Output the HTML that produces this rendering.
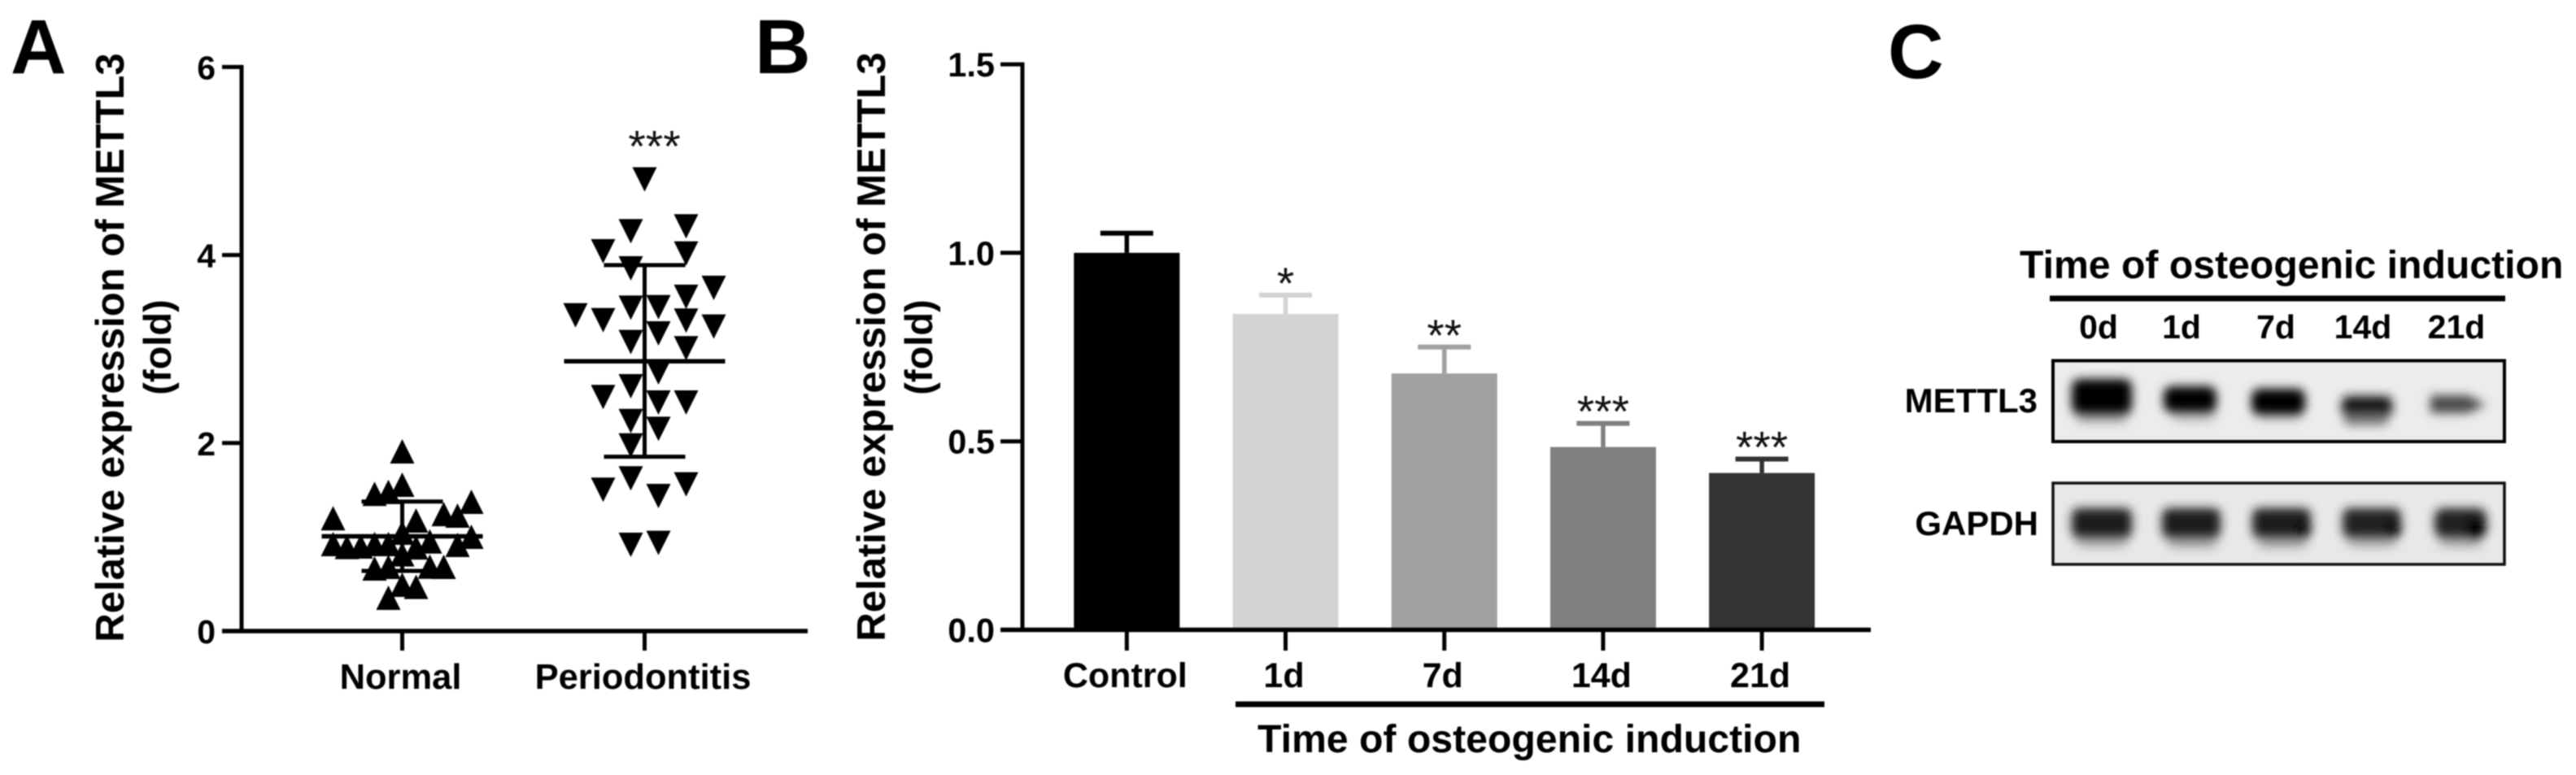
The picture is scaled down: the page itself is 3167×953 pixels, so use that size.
<!DOCTYPE html>
<html>
<head>
<meta charset="utf-8">
<title>METTL3 expression figure</title>
<style>
html,body{margin:0;padding:0;background:#fff;}
svg{display:block;filter:blur(0.7px);}
text{font-family:"Liberation Sans",Arial,sans-serif;font-weight:bold;fill:#000;}
.star{font-weight:normal;font-size:55px;fill:#111;}
</style>
</head>
<body>
<svg id="fig" xmlns="http://www.w3.org/2000/svg" width="3167" height="953" viewBox="0 0 3167 953">
  <defs>
    <filter id="blur" x="-40%" y="-80%" width="180%" height="260%"><feGaussianBlur stdDeviation="6"/></filter>
    <filter id="blurWide" x="-40%" y="-150%" width="180%" height="400%"><feGaussianBlur stdDeviation="7"/></filter>
  </defs>
  <rect width="3167" height="953" fill="#fff"/>

  <text x="13" y="90" font-size="95">A</text>
  <text x="928" y="90" font-size="95">B</text>
  <text x="2321" y="96" font-size="95">C</text>

  <text transform="translate(152 427.5) rotate(-90)" text-anchor="middle" font-size="49">Relative expression of METTL3</text>
  <text transform="translate(210 427) rotate(-90)" text-anchor="middle" font-size="47">(fold)</text>
  <text transform="translate(1088 426.5) rotate(-90)" text-anchor="middle" font-size="49">Relative expression of METTL3</text>
  <text transform="translate(1146 427) rotate(-90)" text-anchor="middle" font-size="47">(fold)</text>

  <g id="panelA"></g>
  <g id="panelB"></g>

  <rect x="1519" y="862.5" width="724" height="7" fill="#000"/>
  <text x="1546" y="925" font-size="48.2">Time of osteogenic induction</text>

  <!-- Panel C: western blot -->
  <g>
    <text x="2483" y="342" font-size="48.2">Time of osteogenic induction</text>
    <rect x="2520" y="363.5" width="560" height="7" fill="#000"/>
    <g font-size="41" text-anchor="middle">
      <text x="2580" y="416">0d</text>
      <text x="2682" y="416">1d</text>
      <text x="2798" y="416">7d</text>
      <text x="2905" y="416">14d</text>
      <text x="3020" y="416">21d</text>
    </g>
    <text x="2505" y="507" font-size="42" text-anchor="end">METTL3</text>
    <text x="2506" y="658" font-size="42" text-anchor="end">GAPDH</text>

    <g>
      <rect x="2524" y="444" width="555" height="99" fill="#ececec"/>
      <g filter="url(#blurWide)">
        <rect x="2554" y="505" width="60" height="14" fill="#9c9c9c"/>
        <rect x="2672" y="504" width="50" height="13" fill="#b4b4b4"/>
        <rect x="2776" y="507" width="52" height="10" fill="#c4c4c4"/>
      </g>
      <g filter="url(#blur)">
        <rect x="2547" y="466" width="74" height="43" rx="10" fill="#000"/>
        <rect x="2660" y="475" width="65" height="32" rx="10" fill="#000"/>
        <rect x="2768" y="478" width="66" height="32" rx="10" fill="#000"/>
        <rect x="2879" y="487" width="62" height="26" rx="8" fill="#181818"/>
        <rect x="2882" y="510" width="54" height="13" rx="6" fill="#777"/>
        <path d="M2988 486 L3034 486 L3056 498 L3034 508 L2988 508 Z" fill="#484848"/>
      </g>
      <rect x="2524" y="443.5" width="555" height="99.5" fill="none" stroke="#000" stroke-width="4"/>
    </g>

    <g>
      <rect x="2524" y="594" width="555" height="100" fill="#e8e8e8"/>
      <g filter="url(#blurWide)">
        <rect x="2554" y="658" width="60" height="14" fill="#a4a4a4"/>
        <rect x="2666" y="658" width="58" height="15" fill="#9c9c9c"/>
        <rect x="2777" y="658" width="58" height="15" fill="#9c9c9c"/>
        <rect x="2888" y="658" width="56" height="14" fill="#a4a4a4"/>
        <rect x="3000" y="658" width="50" height="14" fill="#a4a4a4"/>
      </g>
      <g filter="url(#blur)">
        <rect x="2547" y="625" width="74" height="36" rx="9" fill="#1c1c1c"/>
        <rect x="2658" y="625" width="72" height="36" rx="9" fill="#1c1c1c"/>
        <rect x="2769" y="625" width="72" height="36" rx="9" fill="#1c1c1c"/>
        <rect x="2880" y="625" width="72" height="36" rx="9" fill="#202020"/>
        <rect x="2993" y="625" width="64" height="36" rx="11" fill="#202020"/>
        <circle cx="2943" cy="650" r="9" fill="#000"/>
        <circle cx="3044" cy="650" r="12" fill="#000"/>
        <circle cx="2832" cy="651" r="8" fill="#000"/>
      </g>
      <rect x="2524" y="594" width="555" height="100" fill="none" stroke="#111" stroke-width="3.5"/>
    </g>
  </g>
</svg>

<script>
// ---------- Panel A data ----------
const scatterCategories = ['Normal', 'Periodontitis'];
const scatterTickLabels = ['0', '2', '4', '6'];
const scatterTickValues = [0, 2, 4, 6];
const normalValues = [1.912, 1.557, 1.46, 1.48, 1.2, 1.176, 1.245, 1.228, 1.375, 1.047, 1.003, 0.926, 0.894, 0.9, 0.926, 0.926, 0.816, 0.89, 0.954, 0.917, 0.666, 0.683, 0.686, 0.683, 0.493, 0.47, 0.355];
const normalJitter = [0, 0, -2, -1, -5, 1, 3, 4, 5, 0, 5, -5, -4, -3, -2, -1, 0, 1, 2, 4, -2, -1, 2, 3, 0, 1, -1];
const periodontitisValues = [4.804, 4.253, 4.305, 4.04, 4.016, 3.858, 3.651, 3.555, 3.44, 3.445, 3.359, 3.307, 3.302, 3.238, 3.074, 3.166, 3.008, 2.751, 2.604, 2.489, 2.431, 2.431, 2.234, 2.151, 1.975, 1.624, 1.503, 1.56, 1.436, 0.917, 0.937];
const periodontitisJitter = [0, -1, 3, -3, 3, -1, 5, 3, -1, 1, -5, -3, 3, 5, -1, 1, 3, 1, -1, -3, 1, 3, -1, 1, -1, -1, -3, 3, 1, -1, 1];
const scatterMeans = [1.008, 2.87];
const scatterSdHigh = [1.378, 3.893];
const scatterSdLow = [0.64, 1.854];
const scatterSignificance = ['', '***'];

// ---------- Panel B data ----------
const barCategories = ['Control', '1d', '7d', '14d', '21d'];
const barValues = [1.0, 0.838, 0.68, 0.485, 0.416];
const barErrorTops = [1.052, 0.888, 0.75, 0.5475, 0.453];
const barColors = ['#000000', '#d3d3d3', '#a0a0a3', '#808080', '#333333'];
const barSignificance = ['', '*', '**', '***', '***'];
const barTickLabels = ['0.0', '0.5', '1.0', '1.5'];
const barTickValues = [0, 0.5, 1, 1.5];

const NS = 'http://www.w3.org/2000/svg';

function yA(v) { return 776 - v * 115.6; }
function xA(i) { return 494.5 + i * 298; }
function jitterA(j) { return j * 17; }
function yB(v) { return 774.5 - v * 463.6; }
function xB(i) { return 1385.3 + i * 195.2; }

function addLine(parent, x1, y1, x2, y2, width, color, name) {
  const el = document.createElementNS(NS, 'line');
  el.setAttribute('x1', x1);
  el.setAttribute('y1', y1);
  el.setAttribute('x2', x2);
  el.setAttribute('y2', y2);
  el.setAttribute('stroke', color);
  el.setAttribute('stroke-width', width);
  
  
  parent.appendChild(el);
  return el;
}

function addText(parent, x, y, str, size, anchor, name, cls) {
  const el = document.createElementNS(NS, 'text');
  el.setAttribute('x', x);
  el.setAttribute('y', y);
  el.setAttribute('font-size', size);
  el.setAttribute('text-anchor', anchor);
  if (cls) el.setAttribute('class', cls);
  el.textContent = str;
  
  
  parent.appendChild(el);
  return el;
}

function addTriangle(parent, cx, cy, up, name) {
  const el = document.createElementNS(NS, 'polygon');
  const h = 15;
  const pts = up
    ? [[cx, cy - h], [cx - h, cy + h], [cx + h, cy + h]]
    : [[cx, cy + h], [cx - h, cy - h], [cx + h, cy - h]];
  el.setAttribute('points', pts.map(function (p) { return p.join(','); }).join(' '));
  el.setAttribute('fill', '#000');
  
  
  parent.appendChild(el);
  return el;
}

// ---------- Draw panel A ----------
const gA = document.getElementById('panelA');

normalValues.forEach(function (v, i) {
  addTriangle(gA, xA(0) + jitterA(normalJitter[i]), yA(v), true, 'normal-point');
});
periodontitisValues.forEach(function (v, i) {
  addTriangle(gA, xA(1) + jitterA(periodontitisJitter[i]), yA(v), false, 'periodontitis-point');
});

scatterCategories.forEach(function (c, i) {
  const cx = xA(i);
  addLine(gA, cx - 99, yA(scatterMeans[i]), cx + 99, yA(scatterMeans[i]), 5.5, '#000', 'mean-line-' + c.toLowerCase());
  addLine(gA, cx - 50, yA(scatterSdHigh[i]), cx + 50, yA(scatterSdHigh[i]), 5, '#000', 'sd-cap-high-' + c.toLowerCase());
  addLine(gA, cx - 50, yA(scatterSdLow[i]), cx + 50, yA(scatterSdLow[i]), 5, '#000', 'sd-cap-low-' + c.toLowerCase());
  addLine(gA, cx, yA(scatterSdHigh[i]), cx, yA(scatterSdLow[i]), 5, '#000', 'sd-stem-' + c.toLowerCase());
  addLine(gA, cx, yA(0), cx, 800, 5, '#000', 'x-tick-' + c.toLowerCase());
  addText(gA, cx - 2, 847, c, 43.5, 'middle', 'x-label-' + c.toLowerCase());
  if (scatterSignificance[i]) {
    addText(gA, cx + 12, yA(Math.max.apply(null, periodontitisValues)) - 22, scatterSignificance[i], 56, 'middle', 'significance-periodontitis', 'star');
  }
});

scatterTickValues.forEach(function (v, i) {
  addLine(gA, 273, yA(v), 297, yA(v), 5, '#000', 'y-tick-a-' + scatterTickLabels[i]);
  addText(gA, 265, yA(v) + 15, scatterTickLabels[i], 41, 'end', 'y-tick-label-a-' + scatterTickLabels[i]);
});
addLine(gA, 297, yA(6) - 2.5, 297, yA(0) + 2.5, 5, '#000', 'y-axis-a');
addLine(gA, 273, yA(0), 993, yA(0), 5.5, '#000', 'x-axis-a');

// ---------- Draw panel B ----------
const gB = document.getElementById('panelB');

barCategories.forEach(function (c, i) {
  const cx = xB(i);
  const bar = document.createElementNS(NS, 'rect');
  bar.setAttribute('x', cx - 65);
  bar.setAttribute('y', yB(barValues[i]));
  bar.setAttribute('width', 130);
  bar.setAttribute('height', yB(0) - yB(barValues[i]));
  bar.setAttribute('fill', barColors[i]);
  
  
  gB.appendChild(bar);
  addLine(gB, cx, yB(barValues[i]), cx, yB(barErrorTops[i]), 5.5, barColors[i], 'error-stem-' + c.toLowerCase());
  addLine(gB, cx - 32.5, yB(barErrorTops[i]), cx + 32.5, yB(barErrorTops[i]), 6, barColors[i], 'error-cap-' + c.toLowerCase());
  if (barSignificance[i]) {
    addText(gB, cx, yB(barErrorTops[i]) + 4, barSignificance[i], 55, 'middle', 'significance-' + c.toLowerCase(), 'star');
  }
});

barCategories.forEach(function (c, i) {
  const cx = xB(i);
  addLine(gB, cx, yB(0), cx, 800, 5, '#000', 'x-tick-' + c.toLowerCase());
  addText(gB, cx - 2, 845, c, 43, 'middle', 'x-label-' + c.toLowerCase());
});

barTickValues.forEach(function (v, i) {
  addLine(gB, 1230, yB(v), 1257, yB(v), 5, '#000', 'y-tick-b-' + barTickLabels[i]);
  addText(gB, 1223, yB(v) + 15, barTickLabels[i], 41.5, 'end', 'y-tick-label-b-' + barTickLabels[i]);
});
addLine(gB, 1257, yB(1.5) - 2.5, 1257, yB(0) + 2.5, 5, '#000', 'y-axis-b');
addLine(gB, 1230, yB(0), 2300, yB(0), 5.5, '#000', 'x-axis-b');
</script>
</body>
</html>
